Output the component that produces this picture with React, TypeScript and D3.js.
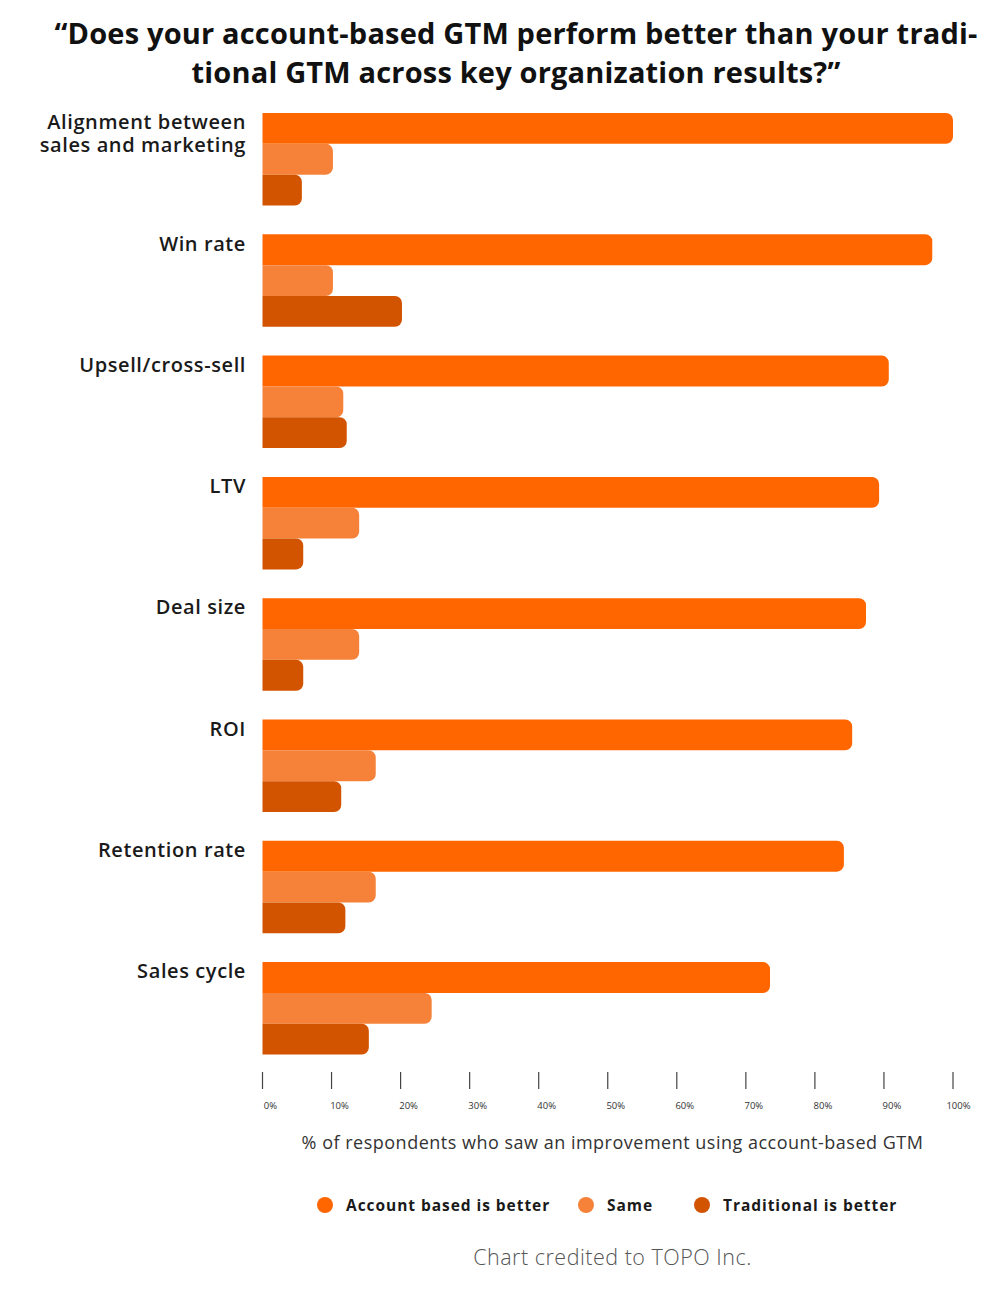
import React from "react";
import * as d3 from "d3";

const titleLines = [
  "\u201CDoes your account-based GTM perform better than your tradi-",
  "tional GTM across key organization results?\u201D",
];
const categories = [
  "Alignment between\nsales and marketing",
  "Win rate",
  "Upsell/cross-sell",
  "LTV",
  "Deal size",
  "ROI",
  "Retention rate",
  "Sales cycle",
];
const seriesNames = ["Account based is better", "Same", "Traditional is better"];
const accountBased = [100, 97, 90.7, 89.3, 87.4, 85.4, 84.2, 73.5];
const same = [10.2, 10.2, 11.7, 14, 14, 16.4, 16.4, 24.5];
const traditional = [5.7, 20.2, 12.2, 5.9, 5.9, 11.4, 12, 15.4];
const seriesValues = [accountBased, same, traditional];
const seriesColors = ["#FF6600", "#F6823A", "#D35400"];
const tickValues = [0, 10, 20, 30, 40, 50, 60, 70, 80, 90, 100];
const axisTitle = "% of respondents who saw an improvement using account-based GTM";
const credit = "Chart credited to TOPO Inc.";

const FONT = "'Open Sans', 'Noto Sans', sans-serif";

function barPath(x0: number, x1: number, y0: number, y1: number, r: number) {
  const rr = Math.min(r, (x1 - x0) / 2, (y1 - y0) / 2);
  const p = d3.path();
  p.moveTo(x0, y0);
  p.lineTo(x1 - rr, y0);
  p.arcTo(x1, y0, x1, y0 + rr, rr);
  p.lineTo(x1, y1 - rr);
  p.arcTo(x1, y1, x1 - rr, y1, rr);
  p.lineTo(x0, y1);
  p.closePath();
  return p.toString();
}

export default function App() {
  const W = 1000;
  const H = 1290;
  const x = d3.scaleLinear().domain([0, 100]).range([262.5, 953]);
  const y = d3
    .scaleBand<string>()
    .domain(categories)
    .range([113, 1054.6])
    .paddingInner(0.2374)
    .paddingOuter(0);
  const inner = d3
    .scaleBand<string>()
    .domain(seriesNames)
    .range([0, y.bandwidth()])
    .padding(0);

  const legendX = [325, 586, 702];

  return (
    <svg
      width={W}
      height={H}
      style={{ position: "absolute", left: 0, top: 0, background: "#fff" }}
      fontFamily={FONT}
    >
      <rect width={W} height={H} fill="#fff" />
      {titleLines.map((t, i) => (
        <text
          key={i}
          x={516}
          y={43.5 + i * 39.5}
          textAnchor="middle"
          fontSize={29}
          fontWeight={700}
          fill="#111"
          letterSpacing={0.18}
        >
          {t}
        </text>
      ))}

      {categories.map((c, ci) => {
        const top = y(c)!;
        const lines = c.split("\n");
        return (
          <g key={c}>
            {lines.map((l, li) => (
              <text
                key={li}
                x={246}
                y={top + 16.3 + li * 22.6}
                textAnchor="end"
                fontSize={20}
                fontWeight={600}
                fill="#1a1a1a"
                letterSpacing={0.6}
              >
                {l}
              </text>
            ))}
            {seriesNames.map((s, si) => {
              const y0 = top + inner(s)!;
              const y1 = y0 + inner.bandwidth();
              return (
                <path
                  key={s}
                  d={barPath(x(0), x(seriesValues[si][ci]), y0, y1, 7)}
                  fill={seriesColors[si]}
                />
              );
            })}
          </g>
        );
      })}

      {tickValues.map((t) => (
        <g key={t}>
          <line
            x1={x(t)}
            x2={x(t)}
            y1={1072}
            y2={1089}
            stroke="#444"
            strokeWidth={1.2}
          />
          <text
            x={x(t) + (t === 100 ? 5.5 : 8)}
            y={1108.5}
            textAnchor="middle"
            fontSize={9.5}
            fill="#333"
          >
            {t + "%"}
          </text>
        </g>
      ))}

      <text
        x={612.5}
        y={1149}
        textAnchor="middle"
        fontSize={18}
        fill="#333"
        letterSpacing={0.5}
      >
        {axisTitle}
      </text>

      {seriesNames.map((s, i) => (
        <g key={s}>
          <circle cx={legendX[i]} cy={1205} r={8} fill={seriesColors[i]} />
          <text
            x={legendX[i] + 21}
            y={1210.5}
            fontSize={15.5}
            fontWeight={700}
            fill="#1a1a1a"
            letterSpacing={0.95}
          >
            {s}
          </text>
        </g>
      ))}

      <text
        x={612.5}
        y={1265}
        textAnchor="middle"
        fontSize={21.5}
        fontWeight={300}
        fill="#555"
        letterSpacing={0.5}
      >
        {credit}
      </text>
    </svg>
  );
}
